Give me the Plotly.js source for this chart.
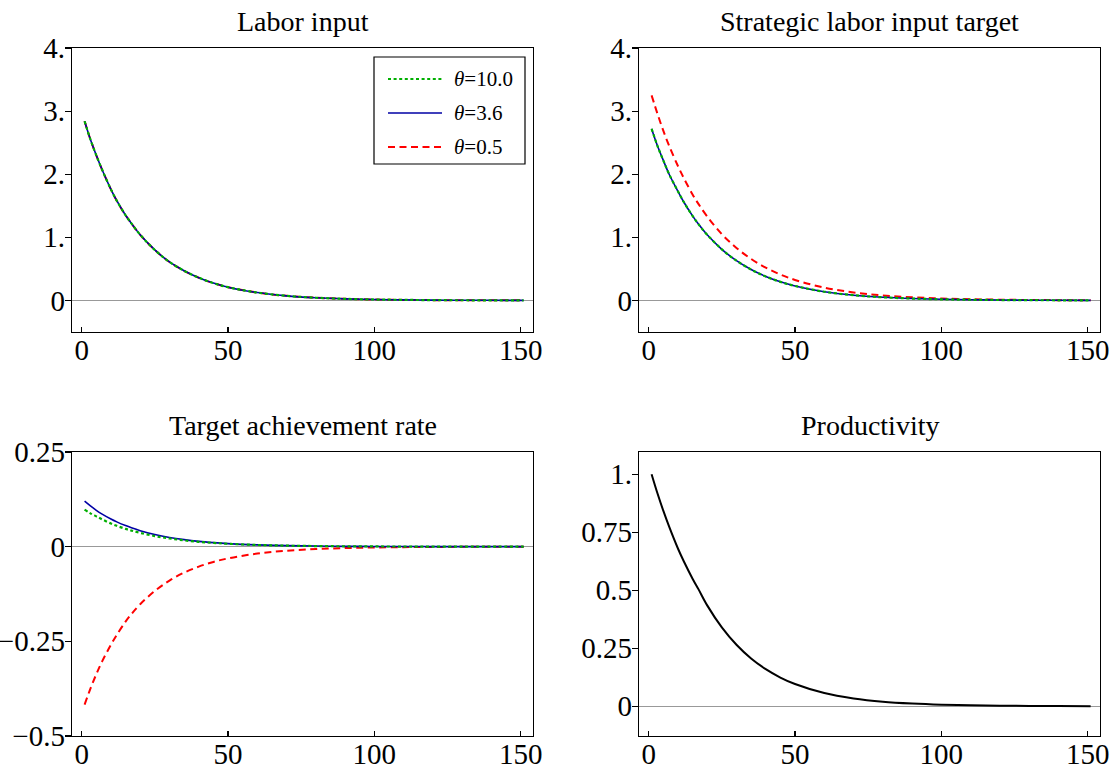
<!DOCTYPE html>
<html>
<head>
<meta charset="utf-8">
<script src="https://cdn.plot.ly/plotly-3.0.1.min.js"></script>
<style>html,body{margin:0;padding:0;background:#fff;}#chart{width:1116px;height:776px;}</style>
</head>
<body>
<div id="chart"></div>
<script>
// ---- data ----
const periods = [1,3,5,7,10,12,15,17,20,25,30,35,40,45,50,60,70,80,90,100,110,120,130,140,151];

const panelTitles = ["Labor input", "Strategic labor input target", "Target achievement rate", "Productivity"];
const seriesNames = ["θ=10.0", "θ=3.6", "θ=0.5"];

// Labor input (the three curves coincide)
const laborTheta10  = [2.84,2.55,2.30,2.07,1.76,1.58,1.35,1.22,1.04,0.80,0.61,0.47,0.36,0.275,0.21,0.125,0.073,0.043,0.025,0.015,0.009,0.005,0.003,0.002,0.001];
const laborTheta36  = [2.84,2.55,2.30,2.07,1.76,1.58,1.35,1.22,1.04,0.80,0.61,0.47,0.36,0.275,0.21,0.125,0.073,0.043,0.025,0.015,0.009,0.005,0.003,0.002,0.001];
const laborTheta05  = [2.84,2.55,2.30,2.07,1.76,1.58,1.35,1.22,1.04,0.80,0.61,0.47,0.36,0.275,0.21,0.125,0.073,0.043,0.025,0.015,0.009,0.005,0.003,0.002,0.001];

// Strategic labor input target
const targetTheta10 = [2.72,2.45,2.22,2.00,1.73,1.56,1.34,1.21,1.04,0.81,0.63,0.49,0.38,0.295,0.23,0.138,0.083,0.050,0.030,0.018,0.011,0.0065,0.004,0.0024,0.0014];
const targetTheta36 = [2.72,2.45,2.22,2.00,1.73,1.56,1.34,1.21,1.04,0.81,0.63,0.49,0.38,0.295,0.23,0.138,0.083,0.050,0.030,0.018,0.011,0.0065,0.004,0.0024,0.0014];
const targetTheta05 = [3.25,2.96,2.69,2.45,2.13,1.94,1.68,1.53,1.33,1.05,0.832,0.658,0.52,0.411,0.325,0.203,0.127,0.079,0.050,0.031,0.019,0.012,0.0075,0.0047,0.0028];

// Target achievement rate
const rateTheta10   = [0.098,0.088,0.080,0.072,0.061,0.055,0.047,0.0425,0.0365,0.028,0.0217,0.0167,0.0129,0.010,0.0076,0.0045,0.0027,0.0016,0.001,0.0006,0.0003,0.0002,0.0001,0.0001,0.00004];
const rateTheta36   = [0.120,0.1075,0.096,0.086,0.073,0.0655,0.0556,0.0498,0.0422,0.032,0.0243,0.0185,0.014,0.0107,0.0081,0.0047,0.0027,0.0016,0.0009,0.0005,0.0003,0.0002,0.0001,0.0001,0.00003];
const rateTheta05   = [-0.417,-0.375,-0.337,-0.303,-0.259,-0.233,-0.198,-0.178,-0.152,-0.117,-0.0895,-0.0686,-0.0526,-0.0403,-0.0309,-0.0182,-0.0107,-0.0063,-0.0037,-0.0022,-0.0013,-0.0008,-0.0004,-0.0003,-0.00015];

// Productivity
const productivity  = [1.0,0.918,0.843,0.774,0.68,0.625,0.55,0.505,0.435,0.34,0.265,0.206,0.160,0.124,0.096,0.057,0.034,0.020,0.012,0.007,0.0042,0.0025,0.0015,0.0009,0.0005];

// tick labels
const xTickVals = [0,50,100,150];
const xTickText = ["0","50","100","150"];
const yTickVals1 = [0,1,2,3,4];
const yTickText1 = ["0","1.","2.","3.","4."];
const yTickVals3 = [-0.5,-0.25,0,0.25];
const yTickText3 = ["\u22120.5","\u22120.25","0","0.25"];
const yTickVals4 = [0,0.25,0.5,0.75,1];
const yTickText4 = ["0","0.25","0.5","0.75","1."];

// ---- styles ----
const FONT = "Liberation Serif, Times New Roman, serif";
const styles = [
  {color:"rgb(0,175,0)", width:2.2, dash:"3px,2.6px"},   // theta 10
  {color:"rgb(0,0,165)", width:1.6, dash:"solid"},       // theta 3.6
  {color:"rgb(255,0,0)", width:2.0, dash:"7px,4.5px"}    // theta 0.5
];

function tr(y, s, xa, ya, name){
  return {x: periods, y: y, type:"scatter", mode:"lines", name: name,
          line:{color:s.color, width:s.width, dash:s.dash, shape:"spline", smoothing:1},
          xaxis: xa, yaxis: ya, showlegend:false, hoverinfo:"skip"};
}

const data = [
  tr(laborTheta05, styles[2], "x", "y", seriesNames[2]),
  tr(laborTheta36, styles[1], "x", "y", seriesNames[1]),
  tr(laborTheta10, styles[0], "x", "y", seriesNames[0]),
  tr(targetTheta05, styles[2], "x2", "y2", seriesNames[2]),
  tr(targetTheta36, styles[1], "x2", "y2", seriesNames[1]),
  tr(targetTheta10, styles[0], "x2", "y2", seriesNames[0]),
  tr(rateTheta05, styles[2], "x3", "y3", seriesNames[2]),
  tr(rateTheta36, styles[1], "x3", "y3", seriesNames[1]),
  tr(rateTheta10, styles[0], "x3", "y3", seriesNames[0]),
  tr(productivity, {color:"#000", width:2.0, dash:"solid"}, "x4", "y4", "Productivity")
];

const W = 1116, H = 776;
const colL = [72/W, 533/W], colR = [639/W, 1100/W];
const rowT = [1-332/H, 1-48/H], rowB = [1-736/H, 1-452/H];
const TICKSIZE = 29;

function xaxis(domain, anchor){
  return {domain: domain, anchor: anchor, range:[-3.3,154.2], showgrid:false, zeroline:false,
    showline:true, mirror:true, linecolor:"#000", linewidth:1.3,
    ticks:"inside", ticklen:5, tickwidth:1.2, tickcolor:"#000",
    tickmode:"array", tickvals:xTickVals, ticktext:xTickText, ticklabelstandoff:-8,
    tickfont:{family:FONT, size:TICKSIZE, color:"#000"}, fixedrange:true};
}
function yaxis(domain, anchor, range, tv, tt){
  return {domain: domain, anchor: anchor, range: range, showgrid:false,
    zeroline:true, zerolinecolor:"#999", zerolinewidth:1.3,
    showline:true, mirror:true, linecolor:"#000", linewidth:1.3,
    ticks:"outside", ticklen:6, tickwidth:1.2, tickcolor:"#000",
    tickmode:"array", tickvals:tv, ticktext:tt, ticklabelstandoff:-6,
    tickfont:{family:FONT, size:TICKSIZE, color:"#000"}, fixedrange:true};
}

function title(text, xd, yc){
  return {text:text, xref:"paper", yref:"paper", x:(xd[0]+xd[1])/2, y:yc,
    xanchor:"center", yanchor:"middle", showarrow:false,
    font:{family:FONT, size:28, color:"#000"}};
}

// legend (top-left panel)
const legY = [1-79/H, 1-113/H, 1-147/H];
const legOrder = [0,1,2];
const shapes = [
  {type:"rect", xref:"paper", yref:"paper", x0:374/W, x1:525/W, y0:1-164/H, y1:1-57/H,
   line:{color:"#000", width:1.2}, fillcolor:"rgba(255,255,255,1)", layer:"above"}
];
const annotations = [
  title(panelTitles[0], colL, 1-21/H),
  title(panelTitles[1], colR, 1-21/H),
  title(panelTitles[2], colL, 1-425/H),
  title(panelTitles[3], colR, 1-425/H)
];
legOrder.forEach((k,i)=>{
  shapes.push({type:"line", xref:"paper", yref:"paper", x0:388/W, x1:442/W, y0:legY[i], y1:legY[i],
    line:{color:styles[k].color, width:styles[k].width, dash:styles[k].dash}, layer:"above"});
  annotations.push({text:"<i>θ</i>=" + seriesNames[k].split("=")[1], xref:"paper", yref:"paper",
    x:452/W, y:legY[i], xanchor:"left", yanchor:"middle", showarrow:false,
    font:{family:FONT, size:21, color:"#000"}});
});

const layout = {
  width: W, height: H,
  margin:{l:0, r:0, t:0, b:0},
  paper_bgcolor:"#fff", plot_bgcolor:"#fff",
  showlegend:false,
  xaxis: xaxis(colL, "y"),
  yaxis: yaxis(rowT, "x", [-0.5,4.0], yTickVals1, yTickText1),
  xaxis2: xaxis(colR, "y2"),
  yaxis2: yaxis(rowT, "x2", [-0.5,4.0], yTickVals1, yTickText1),
  xaxis3: xaxis(colL, "y3"),
  yaxis3: yaxis(rowB, "x3", [-0.5,0.25], yTickVals3, yTickText3),
  xaxis4: xaxis(colR, "y4"),
  yaxis4: yaxis(rowB, "x4", [-0.128,1.096], yTickVals4, yTickText4),
  shapes: shapes,
  annotations: annotations
};

Plotly.newPlot("chart", data, layout, {staticPlot:true, displayModeBar:false});
</script>
</body>
</html>
